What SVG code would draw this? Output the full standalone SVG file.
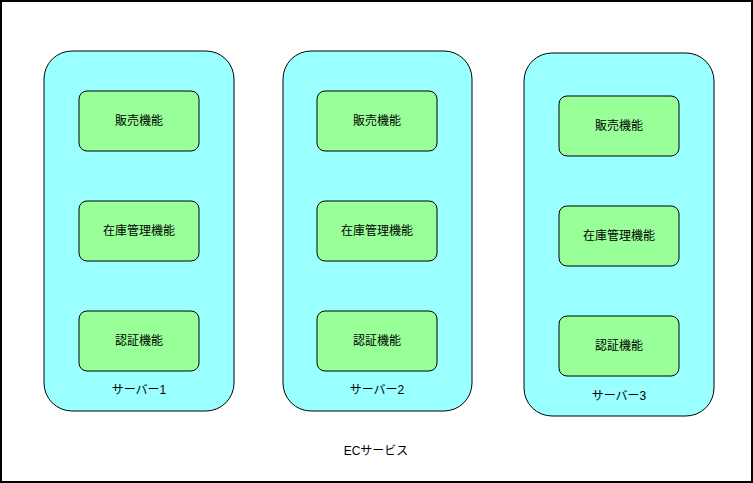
<svg xmlns="http://www.w3.org/2000/svg" width="753" height="483" viewBox="0 0 753 483">
<style>
text{font-family:"Liberation Sans","Noto Sans CJK JP",sans-serif;font-size:12px;fill:#000;text-anchor:middle;dominant-baseline:central}
.srv{fill:#99ffff;stroke:#000;stroke-width:1}
.fn{fill:#99ff99;stroke:#000;stroke-width:1}
</style>
<rect x="1" y="1" width="751" height="481" fill="#fff" stroke="#000" stroke-width="2"/>
<text x="376" y="451">ECサービス</text>
<g id="server1"><rect class="srv" x="44" y="51" width="190" height="360" rx="28"/><text x="139" y="390">サーバー1</text></g>
<g id="server2"><rect class="srv" x="283" y="51" width="189" height="360" rx="28"/><text x="377" y="390">サーバー2</text></g>
<g id="server3"><rect class="srv" x="524" y="53" width="190" height="363" rx="28"/><text x="619" y="396">サーバー3</text></g>
<g id="s1-sales"><rect class="fn" x="79" y="91" width="120" height="60" rx="8"/><text x="139" y="121">販売機能</text></g>
<g id="s1-stock"><rect class="fn" x="79" y="201" width="120" height="60" rx="8"/><text x="139" y="231">在庫管理機能</text></g>
<g id="s1-auth"><rect class="fn" x="79" y="311" width="120" height="60" rx="8"/><text x="139" y="341">認証機能</text></g>
<g id="s2-sales"><rect class="fn" x="317" y="91" width="120" height="60" rx="8"/><text x="377" y="121">販売機能</text></g>
<g id="s2-stock"><rect class="fn" x="317" y="201" width="120" height="60" rx="8"/><text x="377" y="231">在庫管理機能</text></g>
<g id="s2-auth"><rect class="fn" x="317" y="311" width="120" height="60" rx="8"/><text x="377" y="341">認証機能</text></g>
<g id="s3-sales"><rect class="fn" x="559" y="96" width="120" height="60" rx="8"/><text x="619" y="126">販売機能</text></g>
<g id="s3-stock"><rect class="fn" x="559" y="206" width="120" height="60" rx="8"/><text x="619" y="236">在庫管理機能</text></g>
<g id="s3-auth"><rect class="fn" x="559" y="316" width="120" height="60" rx="8"/><text x="619" y="346">認証機能</text></g>
<g id="connectors"/>
</svg>
